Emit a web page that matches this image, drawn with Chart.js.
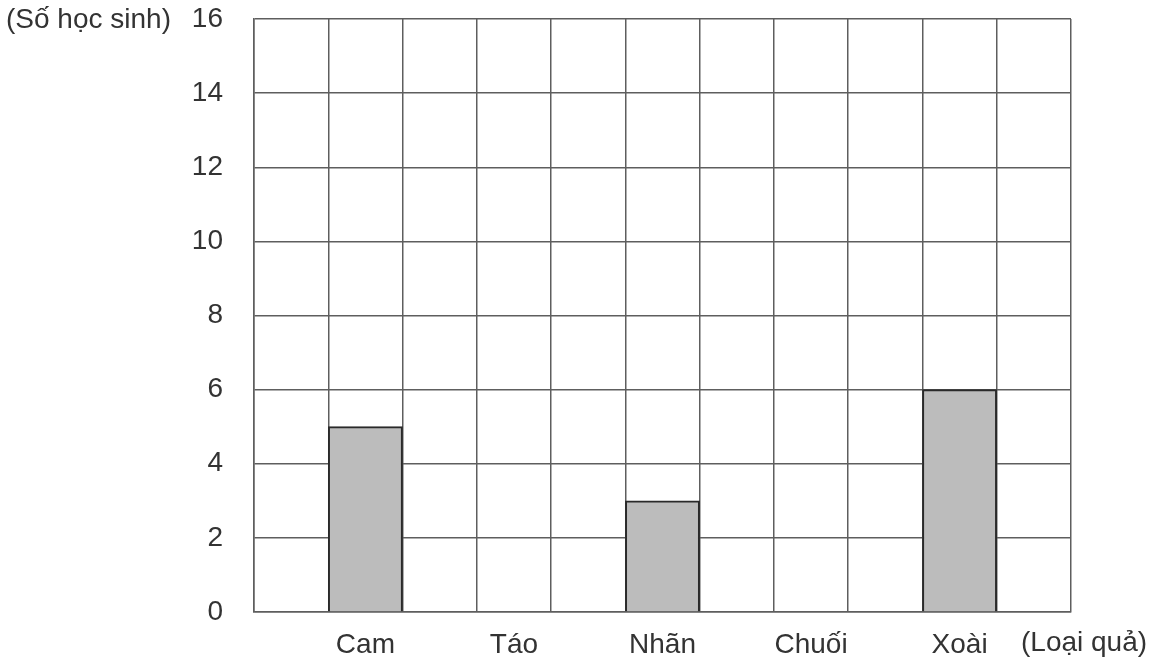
<!DOCTYPE html>
<html>
<head>
<meta charset="utf-8">
<script src="https://cdn.jsdelivr.net/npm/chart.js@4"></script>
<style>
  html, body { margin: 0; padding: 0; background: #fff; }
  #wrap { width: 1155px; height: 669px; }
</style>
</head>
<body>
<div id="wrap"><canvas id="fruit-chart"></canvas></div>
<script>
// columns of the grid: fruits sit on every second column
const categories = ['', 'Cam', '', 'Táo', '', 'Nhãn', '', 'Chuối', '', 'Xoài', ''];
const students = [null, 5, null, null, null, 3, null, null, null, 6, null];
const y_ticks = [0, 2, 4, 6, 8, 10, 12, 14, 16];

const y_title = '(Số học sinh)';
const x_title = '(Loại quả)';

const font_family = '"Liberation Sans", Arial, sans-serif';
const font_size = 28;
const grid_color = '#5e5e5e';

// draws the two axis captions at the top-left and bottom-right
const captions = {
  id: 'captions',
  afterDraw(chart) {
    const c = chart.ctx;
    const area = chart.chartArea;
    c.save();
    c.fillStyle = '#333';
    c.font = font_size + 'px ' + font_family;
    c.textBaseline = 'middle';
    c.textAlign = 'left';
    c.fillText(y_title, 6, area.top + 1);
    c.fillText(x_title, 1021, area.bottom + 31);
    c.restore();
  }
};

let ctx = document.getElementById('fruit-chart');

new Chart(ctx, {
  type: 'bar',
  data: {
    labels: categories,
    datasets: [{
      label: 'Số học sinh',
      data: students,
      backgroundColor: '#bcbcbc',
      borderColor: '#2a2a2a',
      borderWidth: 2,
      barPercentage: 1,
      categoryPercentage: 1
    }]
  },
  options: {
    responsive: true,
    maintainAspectRatio: false,
    animation: false,
    layout: {
      padding: { top: 19, right: 84, bottom: 0, left: 0 }
    },
    plugins: {
      legend: { display: false },
      tooltip: { enabled: false }
    },
    scales: {
      x: {
        offset: true,
        grid: { offset: true, color: grid_color, lineWidth: 1.5, drawTicks: false },
        border: { color: grid_color, width: 1.5 },
        ticks: {
          autoSkip: false,
          maxRotation: 0,
          padding: 16,
          color: '#333',
          font: { family: font_family, size: font_size }
        },
        afterFit(scale) { scale.height = 57; scale.paddingLeft = 0; scale.paddingRight = 0; }
      },
      y: {
        min: 0,
        max: 16,
        afterBuildTicks(scale) { scale.ticks = y_ticks.map(v => ({ value: v })); },
        grid: { color: grid_color, lineWidth: 1.5, drawTicks: false },
        border: { color: grid_color, width: 1.5 },
        ticks: {
          padding: 31,
          color: '#333',
          font: { family: font_family, size: font_size }
        },
        afterFit(scale) { scale.width = 254; scale.paddingTop = 0; scale.paddingBottom = 0; }
      }
    }
  },
  plugins: [captions]
});
</script>
</body>
</html>
